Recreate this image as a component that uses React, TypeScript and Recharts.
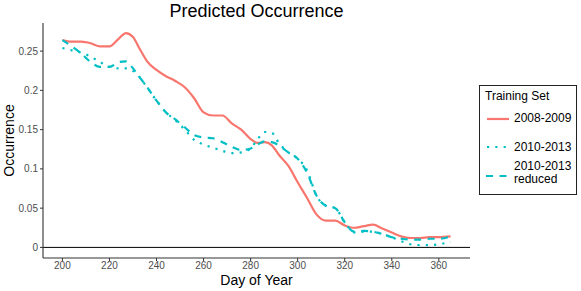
import React from 'react';
import { LineChart, Line, XAxis, YAxis, ReferenceLine, Legend } from 'recharts';

const days = [200, 204, 208, 212, 216, 220, 224, 227, 230, 233, 236, 240, 244, 248, 252, 256, 260, 264, 268, 272, 276, 280, 283, 286, 289, 292, 296, 300, 304, 308, 312, 316, 320, 324, 328, 332, 336, 340, 344, 348, 352, 356, 360, 365];

const set2008 = [0.264, 0.262, 0.262, 0.260, 0.256, 0.256, 0.266, 0.273, 0.268, 0.252, 0.237, 0.226, 0.218, 0.212, 0.204, 0.190, 0.172, 0.168, 0.168, 0.158, 0.150, 0.138, 0.133, 0.134, 0.130, 0.118, 0.104, 0.083, 0.063, 0.042, 0.034, 0.034, 0.028, 0.025, 0.027, 0.029, 0.024, 0.019, 0.014, 0.012, 0.012, 0.013, 0.013, 0.014];

const set2010 = [0.254, 0.251, 0.248, 0.243, 0.236, 0.230, 0.228, 0.228, 0.225, 0.216, 0.204, 0.187, 0.172, 0.162, 0.150, 0.137, 0.131, 0.127, 0.123, 0.120, 0.121, 0.126, 0.138, 0.147, 0.146, 0.133, 0.121, 0.113, 0.098, 0.066, 0.053, 0.050, 0.032, 0.019, 0.020, 0.020, 0.017, 0.013, 0.008, 0.004, 0.003, 0.003, 0.004, 0.007];

const set2010reduced = [0.264, 0.256, 0.247, 0.236, 0.230, 0.230, 0.236, 0.237, 0.228, 0.216, 0.204, 0.187, 0.172, 0.163, 0.153, 0.143, 0.140, 0.139, 0.134, 0.128, 0.124, 0.126, 0.131, 0.135, 0.134, 0.130, 0.121, 0.113, 0.095, 0.066, 0.053, 0.050, 0.032, 0.020, 0.021, 0.020, 0.017, 0.013, 0.011, 0.010, 0.010, 0.011, 0.011, 0.014];

const xTicks = [200, 220, 240, 260, 280, 300, 320, 340, 360];
const yTicks = [0, 0.05, 0.1, 0.15, 0.2, 0.25];

const seriesNames = ['2008-2009', '2010-2013', '2010-2013\nreduced'];

const data = days.map((d, i) => ({
  day: d,
  a: set2008[i],
  b: set2010[i],
  c: set2010reduced[i],
}));

const FONT = '"Liberation Sans", Arial, sans-serif';
const RED = '#F8766D';
const CYAN = '#00BFC4';

const LegendBox = () => (
  <div
    style={{
      width: 96,
      height: 108,
      border: '1px solid #222',
      fontFamily: FONT,
      fontSize: 12,
      color: '#000',
      boxSizing: 'content-box',
      position: 'relative',
    }}
  >
    <div style={{ position: 'absolute', left: 5, top: 3 }}>Training Set</div>
    <svg width={30} height={10} style={{ position: 'absolute', left: 6, top: 28 }}>
      <line x1={1} y1={5} x2={23} y2={5} stroke={RED} strokeWidth={2.2} />
    </svg>
    <div style={{ position: 'absolute', left: 34, top: 25 }}>{seriesNames[0]}</div>
    <svg width={30} height={10} style={{ position: 'absolute', left: 6, top: 56 }}>
      <line x1={1} y1={5} x2={25} y2={5} stroke={CYAN} strokeWidth={2.2} strokeDasharray="2.2 6.1" />
    </svg>
    <div style={{ position: 'absolute', left: 34, top: 54 }}>{seriesNames[1]}</div>
    <svg width={30} height={10} style={{ position: 'absolute', left: 6, top: 85 }}>
      <line x1={0} y1={5} x2={24} y2={5} stroke={CYAN} strokeWidth={2.2} strokeDasharray="7 6.5" />
    </svg>
    <div style={{ position: 'absolute', left: 34, top: 74, lineHeight: '13px' }}>
      2010-2013
      <br />
      reduced
    </div>
  </div>
);

const XLabel = (props: any) => {
  const vb = props.viewBox || {};
  return (
    <text x={vb.x + vb.width / 2} y={vb.y + 27} textAnchor="middle" fontFamily={FONT} fontSize={14} fill="#000">
      Day of Year
    </text>
  );
};

const YLabel = (props: any) => {
  const vb = props.viewBox || {};
  const cx = 14;
  const cy = vb.y + vb.height / 2;
  return (
    <text x={cx} y={cy} textAnchor="middle" fontFamily={FONT} fontSize={14} fill="#000" transform={`rotate(-90 ${cx} ${cy})`}>
      Occurrence
    </text>
  );
};

export default function App() {
  return (
    <div style={{ position: 'absolute', left: 0, top: 0, width: 581, height: 291, background: '#fff' }}>
      <div
        style={{
          position: 'absolute',
          left: 43,
          width: 427,
          top: 1,
          textAlign: 'center',
          fontFamily: FONT,
          fontSize: 18,
          color: '#000',
          zIndex: 2,
        }}
      >
        Predicted Occurrence
      </div>
      <LineChart width={581} height={291} data={data} margin={{ top: 23, right: 13, bottom: 0, left: 0 }}>
        <XAxis
          dataKey="day"
          type="number"
          domain={[191.75, 373.25]}
          ticks={xTicks}
          allowDataOverflow
          height={33}
          tickSize={3}
          tickMargin={1}
          stroke="#333"
          tick={{ fill: '#4D4D4D', fontSize: 10, fontFamily: FONT }}
          axisLine={{ stroke: '#333', strokeWidth: 1.1 }}
          tickLine={{ stroke: '#333' }}
          label={<XLabel />}
        />
        <YAxis
          type="number"
          domain={[-0.0135, 0.2858]}
          ticks={yTicks}
          allowDataOverflow
          width={43}
          tickSize={3}
          tickMargin={2}
          stroke="#333"
          tick={{ fill: '#4D4D4D', fontSize: 10, fontFamily: FONT }}
          axisLine={{ stroke: '#333', strokeWidth: 1.1 }}
          tickLine={{ stroke: '#333' }}
          tickFormatter={(v: number) => String(v)}
          label={<YLabel />}
        />
        <ReferenceLine y={0} stroke="#000" strokeWidth={1} ifOverflow="extendDomain" />
        <Line type="monotone" dataKey="a" name={seriesNames[0]} stroke={RED} strokeWidth={2.2} dot={false} isAnimationActive={false} />
        <Line type="monotone" dataKey="b" name={seriesNames[1]} stroke={CYAN} strokeWidth={2.2} strokeDasharray="2.2 6.1" dot={false} isAnimationActive={false} />
        <Line type="monotone" dataKey="c" name={seriesNames[2]} stroke={CYAN} strokeWidth={2.2} strokeDasharray="7 6.5" dot={false} isAnimationActive={false} />
        <Legend
          layout="vertical"
          align="right"
          verticalAlign="top"
          content={<LegendBox />}
          wrapperStyle={{ position: 'absolute', left: 479, top: 85, width: 98, height: 110 }}
        />
      </LineChart>
    </div>
  );
}
